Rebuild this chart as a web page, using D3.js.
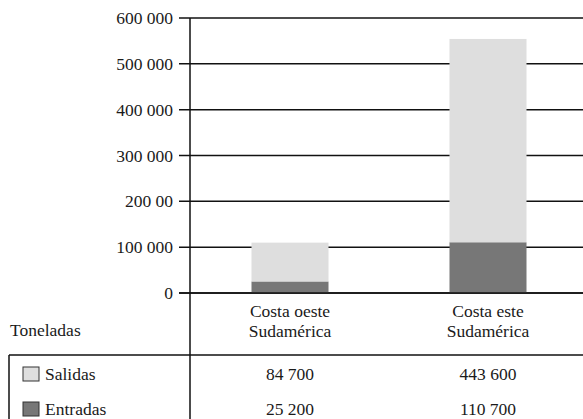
<!DOCTYPE html>
<html>
<head>
<meta charset="utf-8">
<script src="https://cdn.jsdelivr.net/npm/d3@7"></script>
<style>
  body { margin: 0; background: #fff; font-family: "Liberation Serif", serif; }
  svg text { font-family: "Liberation Serif", "Times New Roman", serif !important; }
</style>
</head>
<body>
<svg id="chart"></svg>
<script>
const width = 583;
const height = 419;

// data
const categories = [["Costa oeste", "Sudamérica"], ["Costa este", "Sudamérica"]];
const seriesNames = ["Salidas", "Entradas"];
const salidas = [84700, 443600];
const entradas = [25200, 110700];
const tickValues = [0, 100000, 200000, 300000, 400000, 500000, 600000];
const tickLabels = ["0", "100 000", "200 00", "300 000", "400 000", "500 000", "600 000"];
const rowLabels = ["84 700", "443 600", "25 200", "110 700"];
const unitLabel = "Toneladas";

const colors = { Salidas: "#dedede", Entradas: "#777777" };
const fontSize = 17.5;

const svg = d3.select("#chart")
  .attr("width", width)
  .attr("height", height)
  .style("font-family", '"Liberation Serif"');

// every label goes through here so the font sticks
function label(sel, x0, y0, t, anchor = "start") {
  return sel.append("text")
    .attr("x", x0)
    .attr("y", y0)
    .attr("text-anchor", anchor)
    .style("font", fontSize + 'px "Liberation Serif"')
    .style("fill", "#1a1a1a")
    .text(t);
}

const axisX = 190;
const y = d3.scaleLinear().domain([0, 600000]).range([293, 18]);
const x = d3.scaleBand()
  .domain(d3.range(categories.length))
  .range([axisX, width + 3])
  .padding(0);
const barW = 77;
const cx = (i) => x(i) + x.bandwidth() / 2 + 1;

// gridlines + ticks (drawn before bars so bars sit on top)
const grid = svg.append("g");
grid.selectAll("line")
  .data(tickValues)
  .enter()
  .append("line")
  .attr("x1", axisX - 11)
  .attr("x2", width)
  .attr("y1", (d) => y(d))
  .attr("y2", (d) => y(d))
  .attr("stroke", "#111")
  .attr("stroke-width", 1.5);

tickValues.forEach((v, i) => {
  label(grid, axisX - 17, y(v) + 6, tickLabels[i], "end");
});

// stacked bars: Entradas at bottom, Salidas on top
const stacks = categories.map((c, i) => ({ i, entradas: entradas[i], salidas: salidas[i] }));
const bars = svg.append("g");

bars.selectAll("rect.entradas")
  .data(stacks)
  .enter()
  .append("rect")
  .attr("class", "entradas")
  .attr("x", (d) => cx(d.i) - barW / 2)
  .attr("width", barW)
  .attr("y", (d) => y(d.entradas))
  .attr("height", (d) => y(0) - y(d.entradas))
  .attr("fill", colors.Entradas);

bars.selectAll("rect.salidas")
  .data(stacks)
  .enter()
  .append("rect")
  .attr("class", "salidas")
  .attr("x", (d) => cx(d.i) - barW / 2)
  .attr("width", barW)
  .attr("y", (d) => y(d.entradas + d.salidas))
  .attr("height", (d) => y(d.entradas) - y(d.entradas + d.salidas))
  .attr("fill", colors.Salidas);

// zero line again on top of bars
svg.append("line")
  .attr("x1", axisX - 11)
  .attr("x2", width)
  .attr("y1", y(0))
  .attr("y2", y(0))
  .attr("stroke", "#111")
  .attr("stroke-width", 1.5);

// vertical axis, runs down through the table
svg.append("line")
  .attr("x1", axisX)
  .attr("x2", axisX)
  .attr("y1", y(600000))
  .attr("y2", height)
  .attr("stroke", "#111")
  .attr("stroke-width", 1.5);

// category labels
const catG = svg.append("g");
categories.forEach((lines, i) => {
  lines.forEach((t, j) => {
    label(catG, cx(i), 317 + j * 20, t, "middle");
  });
});

label(svg, 10, 336, unitLabel);

// data table
const tableTop = 355;
svg.append("line")
  .attr("x1", 9).attr("x2", width)
  .attr("y1", tableTop).attr("y2", tableTop)
  .attr("stroke", "#111").attr("stroke-width", 1.5);
svg.append("line")
  .attr("x1", 9).attr("x2", 9)
  .attr("y1", tableTop).attr("y2", height)
  .attr("stroke", "#111").attr("stroke-width", 1.5);

const rowY = [380, 415];
seriesNames.forEach((name, r) => {
  svg.append("rect")
    .attr("x", 23)
    .attr("y", rowY[r] - 13)
    .attr("width", 16)
    .attr("height", 14)
    .attr("fill", colors[name])
    .attr("stroke", "#333")
    .attr("stroke-width", 1);
  label(svg, 45, rowY[r], name);
  categories.forEach((c, i) => {
    label(svg, cx(i), rowY[r], rowLabels[r * 2 + i], "middle");
  });
});
</script>
</body>
</html>
